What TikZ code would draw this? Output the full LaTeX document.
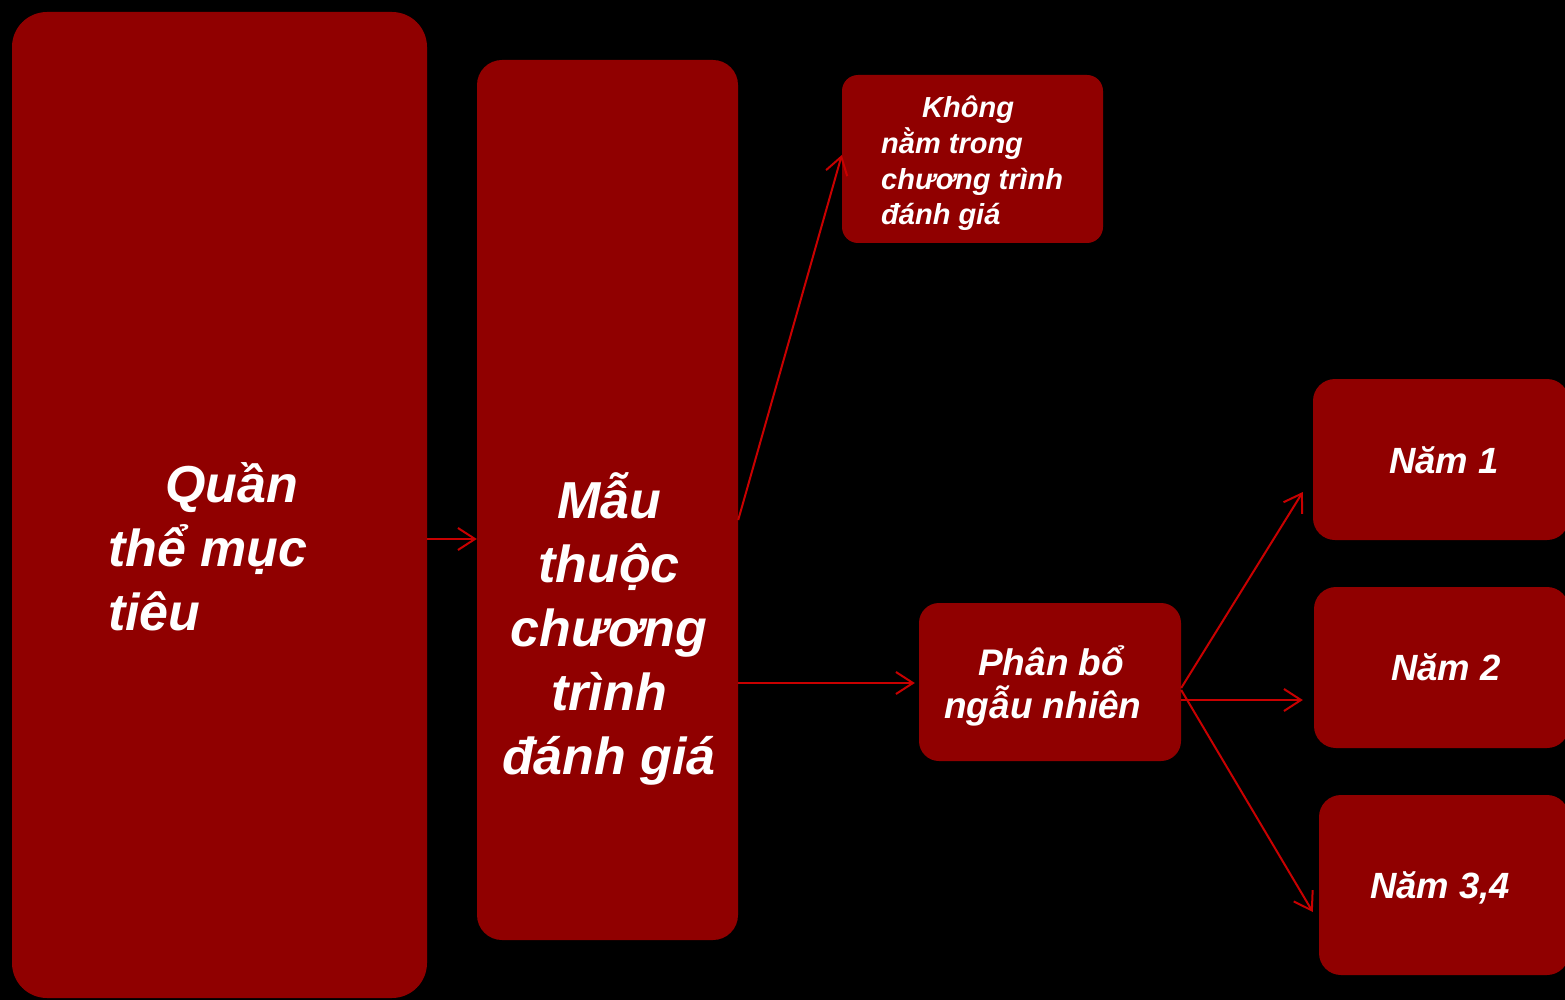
\documentclass[tikz,border=0pt]{standalone}
\usepackage{fontspec}
\setmainfont{Liberation Sans}
\usetikzlibrary{arrows.meta,calc}
\definecolor{boxred}{RGB}{144,0,0}
\definecolor{arrred}{RGB}{200,0,0}
\tikzset{
  box/.style={fill=boxred, draw=none, inner sep=0pt},
  txt/.style={text=white, inner sep=0pt, font=\bfseries\itshape},
  big/.style={txt, font=\bfseries\itshape\fontsize{52}{64}\selectfont},
  mid/.style={txt, font=\bfseries\itshape\fontsize{37}{43}\selectfont},
  nam/.style={txt, font=\bfseries\itshape\fontsize{36.5}{44}\selectfont},
  small/.style={txt, font=\bfseries\itshape\fontsize{29}{35.7}\selectfont},
  arr/.style={draw=arrred, line width=2pt, -{Straight Barb[length=17pt,width=22pt]}}
}
\begin{document}
\begin{tikzpicture}[x=1pt,y=-1pt]
\useasboundingbox (0,0) rectangle (1565,1000);
\fill[black] (0,0) rectangle (1565,1000);
% boxes
\node[box, rounded corners=35pt, minimum width=415pt, minimum height=986pt] (q) at (219.5,505) {};
\node[box, rounded corners=25pt, minimum width=261pt, minimum height=880pt] (m) at (607.5,500) {};
\node[box, rounded corners=16pt, minimum width=261pt, minimum height=168pt] (k) at (972.5,159) {};
\node[box, rounded corners=20pt, minimum width=262pt, minimum height=158pt] (p) at (1050,682) {};
\node[box, rounded corners=22pt, minimum width=256pt, minimum height=161pt] (n1) at (1441,459.5) {};
\node[box, rounded corners=22pt, minimum width=255pt, minimum height=161pt] (n2) at (1441.5,667.5) {};
\node[box, rounded corners=22pt, minimum width=250pt, minimum height=180pt] (n3) at (1444,885) {};
% texts (anchor base = baseline of the last line)
\node[big, anchor=base west, align=left] (tq) at (108,630) {\hspace{57pt}Quần\\thể mục\\tiêu};
\node[big, anchor=base, align=center] (tm) at (609,774) {Mẫu\\thuộc\\chương\\trình\\đánh giá};
\node[small, anchor=base west, align=left] (tk) at (881,225) {\hspace{41pt}Không\\nằm trong\\chương trình\\đánh giá};
\node[mid, anchor=base west, align=left] (tp) at (944,718) {\hspace{34pt}Phân bổ\\ngẫu nhiên};
\node[nam, anchor=base] (t1) at (1444,473) {Năm 1};
\node[nam, anchor=base] (t2) at (1446,680) {Năm 2};
\node[nam, anchor=base] (t3) at (1440,898) {Năm 3,4};
% arrows
\draw[arr] (q.east |- 0,539) -- (m.west |- 0,539);
\draw[arr] (m.east |- 0,520) -- (k.west |- 0,155);
\draw[arr] (m.east |- 0,683) -- ($(p.west |- 0,683)+(-4,0)$);
\draw[arr] (p.east |- 0,688) -- ($(n1.west |- 0,492)+(-10,0)$);
\draw[arr] (p.east |- 0,700) -- ($(n2.west |- 0,700)+(-11,0)$);
\draw[arr] (p.east |- 0,690) -- ($(n3.west |- 0,912)+(-6,0)$);
\end{tikzpicture}
\end{document}
